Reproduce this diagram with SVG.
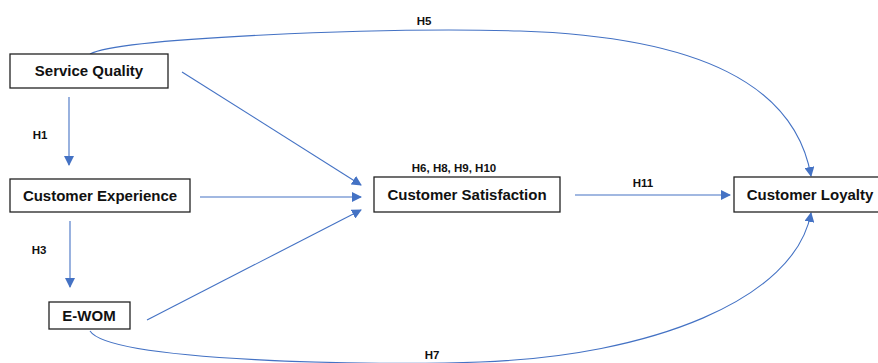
<svg xmlns="http://www.w3.org/2000/svg" width="878" height="363" viewBox="0 0 878 363">
<defs>
<marker id="ah" markerWidth="10" markerHeight="10" refX="9" refY="5" orient="auto" markerUnits="userSpaceOnUse">
<path d="M0,0 L10,5 L0,10 Z" fill="#4472C4"/>
</marker>
<style>
.box{fill:#fff;stroke:#222;stroke-width:1.3}
.t{font-family:"Liberation Sans",Arial,sans-serif;font-weight:bold;font-size:15px;fill:#111;text-anchor:middle}
.h{font-family:"Liberation Sans",Arial,sans-serif;font-weight:bold;font-size:11.5px;fill:#111;text-anchor:middle}
.c{fill:none;stroke:#4472C4;stroke-width:1.1;marker-end:url(#ah)}
</style>
</defs>
<rect width="878" height="363" fill="#fff"/>
<g id="connectors">
<path class="c" d="M90,54 C120,38 380,27 520,31 C700,37 795,85 811,176"/>
<path class="c" d="M90,331 C110,362 380,366 480,362 C650,356 795,300 811,213"/>
<path class="c" d="M182,72 L361,185"/>
<path class="c" d="M200,197 L361,197"/>
<path class="c" d="M147,320 L361,210"/>
<path class="c" d="M69,97 L69,165"/>
<path class="c" d="M70,221 L70,287"/>
<path class="c" d="M575,195 L730,195"/>
</g>
<g id="labels">
<text class="h" x="424" y="25">H5</text>
<text class="h" x="40" y="139">H1</text>
<text class="h" x="39" y="254">H3</text>
<text class="h" x="432" y="359">H7</text>
<text class="h" x="454" y="172">H6, H8, H9, H10</text>
<text class="h" x="643" y="187">H11</text>
</g>
<g id="sq"><rect class="box" x="10" y="54" width="158" height="34"/><text class="t" x="89" y="76">Service Quality</text></g>
<g id="ce"><rect class="box" x="10" y="179" width="180" height="33"/><text class="t" x="100" y="201">Customer Experience</text></g>
<g id="ewom"><rect class="box" x="49" y="302" width="81" height="27"/><text class="t" x="89" y="321">E-WOM</text></g>
<g id="cs"><rect class="box" x="374" y="177" width="186" height="35"/><text class="t" x="467" y="200">Customer Satisfaction</text></g>
<g id="cl"><rect class="box" x="734" y="177" width="150" height="35"/><text class="t" x="810" y="200">Customer Loyalty</text></g>
</svg>
